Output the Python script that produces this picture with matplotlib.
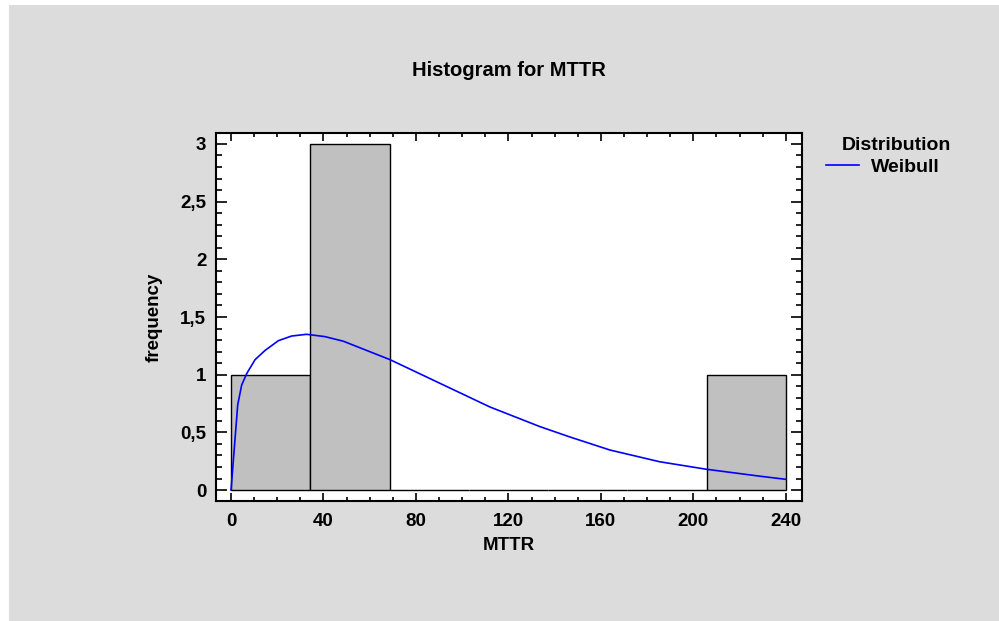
import matplotlib
matplotlib.use("Agg")
import matplotlib.pyplot as plt
import matplotlib.ticker as plticker
from matplotlib.patches import Rectangle

# histogram of MTTR, 7 classes from 0 to 240
bin_edges = [0, 34.29, 68.57, 102.86, 137.14, 171.43, 205.71, 240]
counts = [1, 3, 0, 0, 0, 0, 1]

# fitted Weibull curve
curve_x = [0, 2.9, 4.6, 6.8, 10.4, 14.7, 20.5, 26.2, 32.7, 40.6, 48.6,
           68.8, 90.4, 112, 133.6, 146.6, 163.9, 185.5, 205.7, 228.8, 240]
curve_y = [0, 0.74, 0.91, 1.01, 1.13, 1.21, 1.295, 1.335, 1.35, 1.33, 1.29,
           1.13, 0.925, 0.72, 0.55, 0.46, 0.347, 0.245, 0.18, 0.12, 0.093]

x_ticks = [0, 40, 80, 120, 160, 200, 240]
y_ticks = [0, 0.5, 1, 1.5, 2, 2.5, 3]


def comma_fmt(v, pos):
    return ("%g" % v).replace(".", ",")


def create_chart():
    plt.rcParams['font.family'] = ['Liberation Sans', 'DejaVu Sans']
    plt.rcParams['font.weight'] = 'bold'

    fig = plt.figure(figsize=(9.99, 6.21), dpi=100, facecolor='white')
    # grey panel, leaving a thin white strip on top and left
    fig.add_artist(Rectangle((9 / 999, 0), 1, 1 - 5 / 621, transform=fig.transFigure,
                             facecolor='#dcdcdc', edgecolor='none', zorder=-5))

    ax = fig.add_axes([216 / 999, 120 / 621, 586 / 999, 368 / 621])
    ax.set_facecolor('white')

    widths = [b - a for a, b in zip(bin_edges[:-1], bin_edges[1:])]
    ax.bar(bin_edges[:-1], counts, width=widths, align='edge',
           color='#c0c0c0', edgecolor='black', linewidth=1.0, zorder=2)
    ax.plot(curve_x, curve_y, color='#0000ff', linewidth=1.2, zorder=3, label='Weibull')

    ax.set_xlim(-6.5, 247)
    ax.set_ylim(-0.095, 3.095)
    ax.set_xticks(x_ticks)
    ax.set_yticks(y_ticks)
    ax.xaxis.set_minor_locator(plticker.MultipleLocator(10))
    ax.yaxis.set_minor_locator(plticker.MultipleLocator(0.1))
    ax.yaxis.set_major_formatter(plticker.FuncFormatter(comma_fmt))

    for s in ax.spines.values():
        s.set_linewidth(1.5)
    ax.tick_params(which='both', direction='in', top=True, right=True, width=1.2, labelsize=13.5)
    ax.tick_params(axis='y', which='major', length=8, pad=7)
    ax.tick_params(axis='y', which='minor', length=4)
    ax.tick_params(axis='x', which='major', length=5.5, pad=9)
    ax.tick_params(axis='x', which='minor', length=3)

    ax.set_xlabel('MTTR', fontsize=13.5, fontweight='bold')
    ax.xaxis.set_label_coords(0.5, -0.12)
    ax.xaxis.label.set_va('center')
    ax.set_ylabel('frequency', fontsize=13.5, fontweight='bold')
    ax.yaxis.set_label_coords(-0.106, 0.5)
    ax.yaxis.label.set_va('center')

    fig.text(509 / 999, 1 - 70 / 621, 'Histogram for MTTR', ha='center', va='center',
             fontsize=14.5, fontweight='bold')

    fig.text(896 / 999, 1 - 146 / 621, 'Distribution', ha='center', va='center',
             fontsize=14, fontweight='bold')
    ax.legend(loc='center left', bbox_to_anchor=(826 / 999, 1 - 167 / 621),
              bbox_transform=fig.transFigure, frameon=False, borderpad=0,
              borderaxespad=0, handlelength=1.7, handletextpad=0.6,
              prop={'size': 14, 'weight': 'bold'})

    fig.savefig('out.png', dpi=100, facecolor=fig.get_facecolor())


create_chart()
